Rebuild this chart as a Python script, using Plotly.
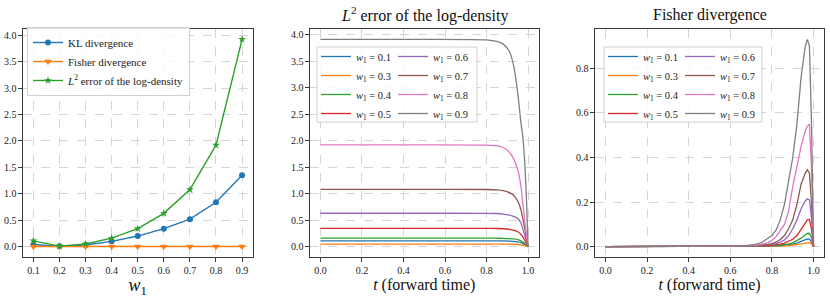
import plotly.graph_objects as go

# ---------------- data ----------------
w1 = [0.1, 0.2, 0.3, 0.4, 0.5, 0.6, 0.7, 0.8, 0.9]
kl_div = [0.04, 0.005, 0.03, 0.10, 0.20, 0.34, 0.52, 0.84, 1.35]
fisher_div = [0.003, 0.003, 0.003, 0.003, 0.003, 0.003, 0.003, 0.003, 0.003]
l2_err = [0.11, 0.01, 0.05, 0.16, 0.34, 0.63, 1.08, 1.92, 3.92]

series_labels = ["0.1", "0.3", "0.4", "0.5", "0.6", "0.7", "0.8", "0.9"]

t_l2 = [0.0, 0.5, 0.8, 0.85, 0.88, 0.91, 0.93, 0.95, 0.965, 0.975, 0.985, 0.993, 1.0]
l2_w01 = [0.11, 0.11, 0.11, 0.109, 0.108, 0.105, 0.10, 0.09, 0.075, 0.058, 0.037, 0.017, 0.0]
l2_w03 = [0.048, 0.048, 0.048, 0.048, 0.047, 0.046, 0.044, 0.04, 0.034, 0.026, 0.017, 0.008, 0.0]
l2_w04 = [0.16, 0.16, 0.16, 0.159, 0.157, 0.152, 0.145, 0.132, 0.11, 0.085, 0.055, 0.025, 0.0]
l2_w05 = [0.345, 0.345, 0.344, 0.342, 0.337, 0.327, 0.31, 0.28, 0.235, 0.18, 0.11, 0.05, 0.0]
l2_w06 = [0.63, 0.63, 0.629, 0.625, 0.615, 0.595, 0.57, 0.53, 0.45, 0.33, 0.2, 0.09, 0.0]
l2_w07 = [1.08, 1.08, 1.078, 1.07, 1.055, 1.02, 0.97, 0.86, 0.70, 0.52, 0.32, 0.13, 0.0]
l2_w08 = [1.92, 1.92, 1.915, 1.90, 1.87, 1.78, 1.66, 1.45, 1.15, 0.80, 0.45, 0.18, 0.0]
l2_w09 = [3.91, 3.91, 3.90, 3.87, 3.82, 3.68, 3.42, 2.90, 2.35, 2.05, 1.5, 0.8, 0.0]

t_fisher = [0.0, 0.5, 0.6, 0.64, 0.68, 0.72, 0.75, 0.78, 0.8, 0.82, 0.84, 0.86,
            0.88, 0.9, 0.92, 0.94, 0.96, 0.97, 0.98, 0.99, 1.0]
fi_w01 = [0, 0, 0, 0, 0.0003, 0.0006, 0.001, 0.0015, 0.002, 0.003, 0.004, 0.006,
          0.008, 0.011, 0.016, 0.024, 0.032, 0.035, 0.034, 0.022, 0]
fi_w03 = [0, 0, 0, 0, 0, 0.0003, 0.0005, 0.0008, 0.001, 0.0015, 0.002, 0.003,
          0.004, 0.006, 0.008, 0.012, 0.016, 0.018, 0.018, 0.012, 0]
fi_w04 = [0, 0, 0, 0, 0.0005, 0.001, 0.0015, 0.002, 0.003, 0.004, 0.006, 0.008,
          0.012, 0.017, 0.026, 0.038, 0.053, 0.059, 0.06, 0.04, 0]
fi_w05 = [0, 0, 0, 0.0005, 0.001, 0.002, 0.003, 0.004, 0.006, 0.008, 0.011, 0.016,
          0.023, 0.033, 0.05, 0.075, 0.105, 0.12, 0.122, 0.08, 0]
fi_w06 = [0, 0, 0, 0.001, 0.002, 0.003, 0.005, 0.007, 0.01, 0.014, 0.02, 0.03,
          0.05, 0.08, 0.12, 0.17, 0.205, 0.215, 0.21, 0.13, 0]
fi_w07 = [0, 0, 0, 0.001, 0.002, 0.004, 0.006, 0.01, 0.014, 0.02, 0.032, 0.05,
          0.08, 0.12, 0.19, 0.28, 0.33, 0.345, 0.33, 0.2, 0]
fi_w08 = [0, 0, 0, 0.001, 0.003, 0.006, 0.01, 0.018, 0.028, 0.045, 0.07, 0.10,
          0.16, 0.27, 0.36, 0.45, 0.52, 0.54, 0.55, 0.35, 0]
fi_w09 = [0, 0, 0.001, 0.003, 0.006, 0.01, 0.018, 0.035, 0.05, 0.075, 0.12, 0.19,
          0.29, 0.40, 0.55, 0.76, 0.90, 0.93, 0.90, 0.55, 0]

l2_curves = [l2_w01, l2_w03, l2_w04, l2_w05, l2_w06, l2_w07, l2_w08, l2_w09]
fi_curves = [fi_w01, fi_w03, fi_w04, fi_w05, fi_w06, fi_w07, fi_w08, fi_w09]

colors = ["#1f77b4", "#ff7f0e", "#2ca02c", "#d62728",
          "#9467bd", "#8c564b", "#e377c2", "#7f7f7f"]

FONT = "Liberation Serif"
W, H = 830, 298

def px(x):
    return x / W

def py(y):
    return 1 - y / H

fig = go.Figure()

# ---------------- left panel ----------------
fig.add_trace(go.Scatter(x=w1, y=kl_div, mode="lines+markers", name="KL divergence",
                         line=dict(color=colors[0], width=1.4),
                         marker=dict(symbol="circle", size=6, color=colors[0]),
                         xaxis="x", yaxis="y", legend="legend"))
fig.add_trace(go.Scatter(x=w1, y=fisher_div, mode="lines+markers", name="Fisher divergence",
                         line=dict(color=colors[1], width=1.4),
                         marker=dict(symbol="triangle-down", size=7, color=colors[1]),
                         xaxis="x", yaxis="y", legend="legend"))
fig.add_trace(go.Scatter(x=w1, y=l2_err, mode="lines+markers",
                         name="<i>L</i><sup>2</sup> error of the log-density",
                         line=dict(color=colors[2], width=1.4),
                         marker=dict(symbol="star", size=6, color=colors[2]),
                         xaxis="x", yaxis="y", legend="legend"))

# ---------------- middle & right panels ----------------
for i, (lab, c) in enumerate(zip(series_labels, colors)):
    leg_mid = "legend2" if i < 4 else "legend3"
    leg_right = "legend4" if i < 4 else "legend5"
    name = "<i>w</i><sub>1</sub> = " + lab
    fig.add_trace(go.Scatter(x=t_l2, y=l2_curves[i], mode="lines", name=name,
                             line=dict(color=c, width=1.3, shape="spline", smoothing=0.6),
                             xaxis="x2", yaxis="y2", legend=leg_mid))
    fig.add_trace(go.Scatter(x=t_fisher, y=fi_curves[i], mode="lines", name=name,
                             line=dict(color=c, width=1.3),
                             xaxis="x3", yaxis="y3", legend=leg_right))

ydom = [py(257), py(29)]
axis_common = dict(showline=True, mirror=True, linecolor="#3a3a3a", linewidth=1.2,
                   ticks="outside", ticklen=3.5, tickcolor="#3a3a3a", tickwidth=1,
                   showgrid=True, gridcolor="#d5d5d5", gridwidth=0.8, griddash="dash",
                   zeroline=False, tickfont=dict(family=FONT, size=10, color="#222"),
                   automargin=False)

fig.update_layout(
    width=W, height=H,
    margin=dict(l=0, r=0, t=0, b=0),
    paper_bgcolor="white", plot_bgcolor="white",
    font=dict(family=FONT, color="#111"),
    xaxis=dict(domain=[px(23), px(252.5)], range=[0.06, 0.94], tickvals=w1,
               tickformat=".1f", anchor="y",
               title=dict(text="<i>w</i><sub>1</sub>", font=dict(family=FONT, size=18), standoff=4),
               **axis_common),
    yaxis=dict(domain=ydom, range=[-0.196, 4.116], dtick=0.5, tickformat=".1f",
               anchor="x", **axis_common),
    xaxis2=dict(domain=[px(310), px(538.5)], range=[-0.05, 1.05], dtick=0.2,
                tickformat=".1f", anchor="y2",
                title=dict(text="<i>t</i> (forward time)", font=dict(family=FONT, size=16), standoff=4),
                **axis_common),
    yaxis2=dict(domain=ydom, range=[-0.1955, 4.1055], dtick=0.5, tickformat=".1f",
                anchor="x2", **axis_common),
    xaxis3=dict(domain=[px(595), px(824)], range=[-0.05, 1.05], dtick=0.2,
                tickformat=".1f", anchor="y3",
                title=dict(text="<i>t</i> (forward time)", font=dict(family=FONT, size=16), standoff=4),
                **axis_common),
    yaxis3=dict(domain=ydom, range=[-0.0465, 0.9765], dtick=0.2, tickformat=".1f",
                anchor="x3", **axis_common),
)

leg_font = dict(family=FONT, size=10.5, color="#222")
fig.update_layout(
    legend=dict(x=px(27), y=py(27), xanchor="left", yanchor="top",
                bgcolor="rgba(255,255,255,0.85)", bordercolor="#d0d0d0", borderwidth=1,
                font=dict(family=FONT, size=11, color="#222"), tracegroupgap=0),
    legend2=dict(x=px(316), y=py(42), xanchor="left", yanchor="top",
                 bgcolor="rgba(0,0,0,0)", borderwidth=0, font=leg_font),
    legend3=dict(x=px(393), y=py(42), xanchor="left", yanchor="top",
                 bgcolor="rgba(0,0,0,0)", borderwidth=0, font=leg_font),
    legend4=dict(x=px(603), y=py(42), xanchor="left", yanchor="top",
                 bgcolor="rgba(0,0,0,0)", borderwidth=0, font=leg_font),
    legend5=dict(x=px(680), y=py(42), xanchor="left", yanchor="top",
                 bgcolor="rgba(0,0,0,0)", borderwidth=0, font=leg_font),
)

# legend frames for two-column legends
for x0, x1 in [(317, 477), (604, 762)]:
    fig.add_shape(type="rect", xref="paper", yref="paper",
                  x0=px(x0), x1=px(x1), y0=py(122), y1=py(47),
                  fillcolor="rgba(255,255,255,0.85)", line=dict(color="#d0d0d0", width=1),
                  layer="above")

# panel titles
fig.add_annotation(text="<i>L</i><sup>2</sup> error of the log-density", xref="paper", yref="paper",
                   x=(px(310) + px(538.5)) / 2, y=py(14), showarrow=False,
                   font=dict(family=FONT, size=16, color="#111"), xanchor="center", yanchor="middle")
fig.add_annotation(text="Fisher divergence", xref="paper", yref="paper",
                   x=(px(595) + px(824)) / 2, y=py(15), showarrow=False,
                   font=dict(family=FONT, size=16, color="#111"), xanchor="center", yanchor="middle")

fig.write_html("out.html", config={"displayModeBar": False},
               post_script="document.body.style.margin='0';document.body.style.overflow='hidden';")
